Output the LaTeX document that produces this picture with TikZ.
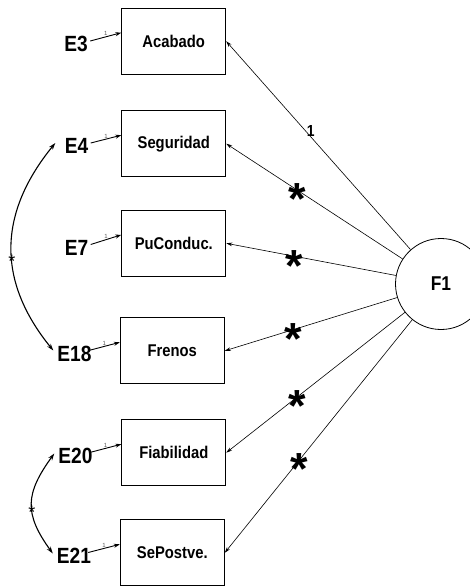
\documentclass[tikz,border=0pt]{standalone}
\usepackage{fontspec}
\newfontfamily\narrowsans[FakeStretch=0.87]{Liberation Sans}
\newfontfamily\plainsans{Liberation Sans}
\usetikzlibrary{arrows.meta}

\begin{document}
\begin{tikzpicture}[x=1pt,y=-1pt,
  obs/.style={draw=black, line width=0.9pt, minimum width=104pt, minimum height=66pt,
    inner sep=0pt, font=\narrowsans\bfseries\fontsize{17}{20}\selectfont},
  err/.style={minimum width=42pt, inner sep=0pt,
    font=\narrowsans\bfseries\fontsize{22}{26}\selectfont},
  latent/.style={draw=black, circle, line width=0.8pt, minimum size=91pt, inner sep=0pt,
    font=\narrowsans\bfseries\fontsize{20}{24}\selectfont},
  load/.style={line width=0.6pt, -{Stealth[length=6pt,width=3.6pt]}},
  eload/.style={line width=0.9pt, -{Stealth[length=6pt,width=4pt]}},
  covar/.style={line width=1.1pt,
    {Stealth[length=7pt,width=4.5pt]}-{Stealth[length=7pt,width=4.5pt]}},
  unit/.style={font=\plainsans\fontsize{6}{7}\selectfont, text=black!65, inner sep=0.6pt},
  ast/.style={anchor=base, inner sep=0pt, yshift=-25pt,
    font=\plainsans\bfseries\fontsize{45}{50}\selectfont},
  smallast/.style={anchor=base, inner sep=0pt, yshift=-10pt,
    font=\plainsans\fontsize{18}{20}\selectfont},
  fixed/.style={right, inner sep=1pt, font=\narrowsans\bfseries\fontsize{16}{18}\selectfont},
]
\clip (0,0) rectangle (470,587);

% observed indicators
\node[obs] (A)  at (173.7, 41.2)  {Acabado};
\node[obs] (S)  at (173.8, 143.7) {Seguridad};
\node[obs] (P)  at (173.8, 243.3) {PuConduc.};
\node[obs] (Fr) at (172.3, 350.8) {Frenos};
\node[obs] (Fi) at (173.8, 452.7) {Fiabilidad};
\node[obs] (Se) at (172.3, 552.8) {SePostve.};

% error terms
\node[err] (E3)  at (76,   44)    {E3};
\node[err] (E4)  at (76.5, 146)   {E4};
\node[err] (E7)  at (76.5, 247.5) {E7};
\node[err] (E18) at (74.5, 353.5) {E18};
\node[err] (E20) at (75.5, 455.5) {E20};
\node[err] (E21) at (74,   555.5) {E21};

% factor
\node[latent] (F1) at (441, 284) {F1};

% factor loadings
\draw[load] (F1) -- (A.east)  node[fixed, pos=0.57] {1};
\draw[load] (F1) -- (S.east)  node[ast, pos=0.6] {*};
\draw[load] (F1) -- (P.east)  node[ast, pos=0.6] {*};
\draw[load] (F1) -- (Fr.east) node[ast, pos=0.6] {*};
\draw[load] (F1) -- (Fi.east) node[ast, pos=0.6] {*};
\draw[load] (F1) -- (Se.east) node[ast, pos=0.6] {*};

% error paths fixed to 1
\foreach \e/\v in {E3/A, E4/S, E7/P, E18/Fr, E20/Fi, E21/Se}
  \draw[eload] ([xshift=-7pt,yshift=3pt]\e.east) -- ([yshift=8.5pt]\v.west)
    node[unit, midway, above] {1};

% error covariances
\draw[covar] ([yshift=3pt]E4.west) .. controls +(-57,70) and +(-57,-70) .. ([yshift=3pt]E18.west)
  node[smallast, pos=0.55] {*};
\draw[covar] ([yshift=2pt]E20.west) .. controls +(-29,40) and +(-29,-40) .. ([yshift=2pt]E21.west)
  node[smallast, pos=0.55] {*};
\end{tikzpicture}
\end{document}
